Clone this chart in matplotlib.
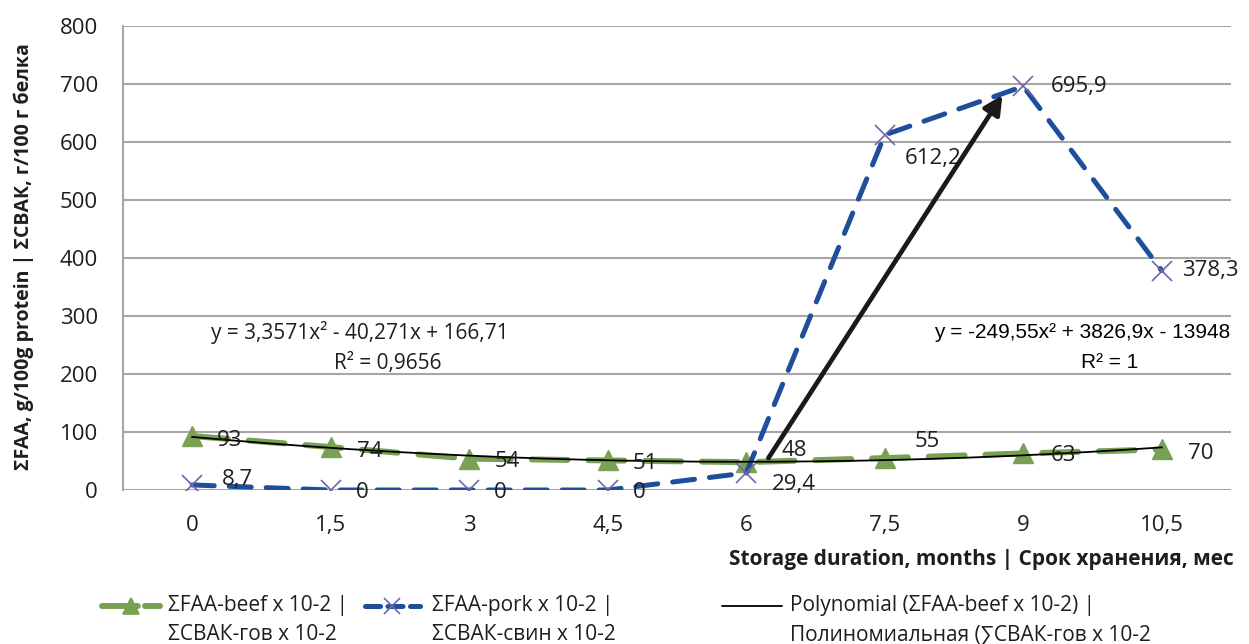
import numpy as np
import matplotlib
matplotlib.use("Agg")
import matplotlib.pyplot as plt
from matplotlib.lines import Line2D

plt.rcParams['font.family'] = ['Open Sans', 'DejaVu Sans']

# data
months = ["0", "1,5", "3", "4,5", "6", "7,5", "9", "10,5"]
beef = [93, 74, 54, 51, 48, 55, 63, 70]
pork = [8.7, 0, 0, 0, 29.4, 612.2, 695.9, 378.3]
beef_eq = "y = 3,3571x² - 40,271x + 166,71"
beef_r2 = "R² = 0,9656"
pork_eq = "y = -249,55x² + 3826,9x - 13948"
pork_r2 = "R² = 1"
legend_labels = [("ΣFAA-beef x 10-2 |", "ΣСВАК-гов x 10-2"),
                 ("ΣFAA-pork x 10-2 |", "ΣСВАК-свин x 10-2"),
                 ("Polynomial (ΣFAA-beef x 10-2) |", "Полиномиальная (∑СВАК-гов x 10-2")]

# label offsets in pixels (dx to left edge, dy of centre)
beef_off = [(25, -4), (26, -4), (25, -3), (25, -3), (35, 12), (30, 17), (27, -2), (26, -4)]
pork_off = [(30, 5), (25, -2), (25, -2), (25, -2), (26, -12), (20, -24), (28, 0), (20, 0)]

GREEN = '#78A152'
BLUE = '#1F4E9A'
PURPLE = '#7464AA'
GRID = '#A6A6A6'
TXT = '#1e1e1e'
W, H = 1249, 644

fig = plt.figure(figsize=(W / 100, H / 100), dpi=100)
ax = fig.add_axes([123 / W, 1 - 490 / H, (1231 - 123) / W, 464 / H])

x = np.arange(len(months))

ax.plot(x, beef, color=GREEN, lw=4.3, dashes=(6, 3.5), dash_capstyle='round',
        marker='^', ms=14, mec=GREEN, mfc=GREEN, zorder=3)
ax.plot(x, pork, color=BLUE, lw=3.6, dashes=(4.4, 3), dash_capstyle='round',
        marker='x', ms=14, mec=PURPLE, mew=1.2, zorder=4)

# polynomial trendline (order 2) of beef series
coef = np.polyfit(x + 1, beef, 2)
xt = np.linspace(0, len(months) - 1, 200)
ax.plot(xt, np.polyval(coef, xt + 1), color='black', lw=1.3, zorder=5)

for i, v in enumerate(beef):
    ax.annotate(f"{v:g}".replace('.', ','), (x[i], v), xytext=beef_off[i],
                textcoords='offset pixels', ha='left', va='center',
                fontsize=16, color=TXT, zorder=6)
for i, v in enumerate(pork):
    ax.annotate(f"{v:g}".replace('.', ','), (x[i], v), xytext=pork_off[i],
                textcoords='offset pixels', ha='left', va='center',
                fontsize=16, color=TXT, zorder=6)

# arrow
ax.annotate("", xy=(5.85, 681), xytext=(4.16, 55),
            arrowprops=dict(arrowstyle='-|>', lw=3.4, color='#1a1a1a',
                            mutation_scale=28, shrinkA=0, shrinkB=0), zorder=7)

ax.set_xlim(-0.5, len(months) - 0.5)
ax.set_ylim(0, 800)
ax.set_yticks(np.arange(0, 801, 100))
ax.set_xticks(x)
ax.set_xticklabels(months)
ax.yaxis.grid(True, color=GRID, lw=1.5)
ax.set_axisbelow(True)
for s in ['top', 'right', 'bottom']:
    ax.spines[s].set_visible(False)
ax.spines['left'].set_color(GRID)
ax.spines['left'].set_linewidth(1.5)
ax.tick_params(axis='y', length=0, pad=18, labelsize=16, labelcolor=TXT)
ax.tick_params(axis='x', length=0, pad=18, labelsize=16, labelcolor=TXT)

# trendline equations
fig.text(360 / W, 1 - 333 / H, beef_eq, ha='center', va='center', fontsize=15, color=TXT)
fig.text(388 / W, 1 - 363 / H, beef_r2, ha='center', va='center', fontsize=15, color=TXT)
fig.text(1082 / W, 1 - 332 / H, pork_eq, ha='center', va='center', fontsize=15,
         color='black', family='Liberation Sans')
fig.text(1110 / W, 1 - 363 / H, pork_r2, ha='center', va='center', fontsize=15,
         color='black', family='Liberation Sans')

# axis titles
fig.text(1234 / W, 1 - 560 / H, "Storage duration, months | Срок хранения, мес",
         ha='right', va='center', fontsize=15, weight='bold', color=TXT)
fig.text(24 / W, 1 - 257 / H, "ΣFAA, g/100g protein | ΣСВАК, г/100 г белка",
         ha='center', va='center', rotation=90, fontsize=14, weight='bold', color=TXT)

# legend drawn by hand (Excel style, handle on first line)
lg = fig.add_axes([0, 0, 1, 1])
lg.set_xlim(0, W)
lg.set_ylim(H, 0)
lg.axis('off')
lg.patch.set_alpha(0)
handles = [
    dict(x0=102, x1=160, color=GREEN, lw=4.3, dashes=(6, 1.2), marker='^', ms=12, mec=GREEN),
    dict(x0=365, x1=420, color=BLUE, lw=3.6, dashes=(3, 1.5), marker='x', ms=12, mec=PURPLE),
    dict(x0=722, x1=782, color='black', lw=1.3, dashes=None, marker=None, ms=0, mec='black'),
]
text_x = [168, 432, 790]
for h, tx, (l1, l2) in zip(handles, text_x, legend_labels):
    ln = Line2D([h['x0'], h['x1']], [606, 606], color=h['color'], lw=h['lw'],
                solid_capstyle='round', dash_capstyle='round')
    if h['dashes']:
        ln.set_dashes(h['dashes'])
    lg.add_line(ln)
    if h['marker']:
        lg.add_line(Line2D([(h['x0'] + h['x1']) / 2], [606], marker=h['marker'],
                           ms=h['ms'], mec=h['mec'], mfc=h['mec'], mew=1.2, lw=0))
    lg.text(tx, 606, l1, ha='left', va='center', fontsize=15, color=TXT)
    lg.text(tx, 635, l2, ha='left', va='center', fontsize=15, color=TXT)

fig.savefig("out.png", dpi=100)
